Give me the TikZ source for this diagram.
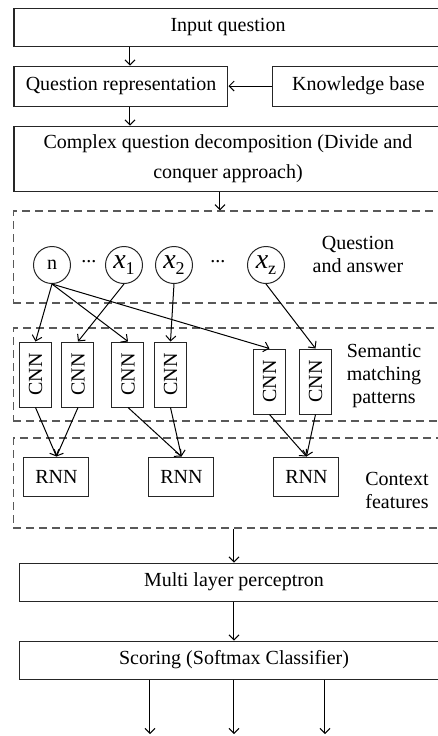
\documentclass[tikz,border=0pt]{standalone}
\usepackage{fontspec}
\setmainfont{Liberation Serif}
\usetikzlibrary{arrows.meta}
% italic variable with an upright index
\newcommand{\xvar}[1]{\textit{\fontsize{14}{14}\selectfont x}\raisebox{-0.6ex}{\fontsize{9}{9}\selectfont #1}}

\begin{document}
\begin{tikzpicture}[x=0.5pt,y=-0.5pt,line width=0.5pt,>={Straight Barb[length=2.5pt,width=5pt]}]
    \tikzstyle{box}=[draw=black!85,rectangle,inner sep=0pt,font=\fontsize{10}{12}\selectfont]
    \tikzstyle{cnn}=[box,minimum width=16pt,minimum height=32.5pt]
    \tikzstyle{rnn}=[box,minimum width=32.5pt,minimum height=19.5pt]
    \tikzstyle{unit}=[draw=black!85,circle,inner sep=0pt,minimum size=18.5pt,font=\fontsize{10}{12}\selectfont]
    \tikzstyle{group}=[draw=black!65,dash pattern=on 4pt off 2.5pt,line width=0.7pt,rectangle,minimum width=215pt]
    \tikzstyle{tag}=[align=center,font=\fontsize{10}{11.5}\selectfont]
    \useasboundingbox (0,0) rectangle (438,736);
    % top of the pipeline
    \draw (228,27) node[box,minimum width=214pt,minimum height=19pt] (inp) {Input question};
    \draw (121,86) node[box,minimum width=107pt,minimum height=20pt] (qr) {Question representation};
    \draw (358.5,86) node[box,minimum width=85.5pt,minimum height=20pt] (kb) {Knowledge base};
    \draw (228,158.5) node[box,minimum width=214pt,minimum height=32.5pt,align=center,font=\fontsize{10}{15}\selectfont] (cqd) {Complex question decomposition (Divide and\\conquer approach)};
    % dashed groups
    \draw (228.5,257) node[group,minimum height=46pt] (qa) {};
    \draw (228.5,374.5) node[group,minimum height=46.5pt] (smp) {};
    \draw (228.5,483) node[group,minimum height=45pt] (ctx) {};
    \draw (358,254) node[tag] {Question\\and answer};
    \draw (384,376) node[tag] {Semantic\\matching\\patterns};
    \draw (397,490) node[tag] {Context\\features};
    % inputs
    \draw (52,265) node[unit] (n) {n};
    \draw (124,265) node[unit] (x1) {\xvar{1}};
    \draw (174,265) node[unit] (x2) {\xvar{2}};
    \draw (266,265) node[unit] (xz) {\xvar{z}};
    \draw (89,262) node[tag] (d1) {...};
    \draw (218,262) node[tag] (d2) {...};
    % matching layer
    \draw (35.5,374.5) node[cnn] (c1) {\rotatebox{90}{CNN}};
    \draw (78,374.5) node[cnn] (c2) {\rotatebox{90}{CNN}};
    \draw (128,374.5) node[cnn] (c3) {\rotatebox{90}{CNN}};
    \draw (170.5,374.5) node[cnn] (c4) {\rotatebox{90}{CNN}};
    \draw (269.5,381.5) node[cnn] (c5) {\rotatebox{90}{CNN}};
    \draw (315.5,381.5) node[cnn] (c6) {\rotatebox{90}{CNN}};
    % context layer
    \draw (56.5,476.5) node[rnn] (r1) {RNN};
    \draw (181.5,476.5) node[rnn] (r2) {RNN};
    \draw (306.5,476.5) node[rnn] (r3) {RNN};
    % output side
    \draw (234,582) node[box,minimum width=214pt,minimum height=19pt] (mlp) {Multi layer perceptron};
    \draw (234,660) node[box,minimum width=214pt,minimum height=19pt] (sc) {Scoring (Softmax Classifier)};
    \coordinate (a1) at (130,0);
    \coordinate (a2) at (220,0);
    \coordinate (a3) at (234,0);
    \coordinate (o1) at (150,734);
    \coordinate (o2) at (234,734);
    \coordinate (o3) at (325,734);
    \draw[->] (inp.south -| a1) -- (qr.north -| a1);
    \draw[->] (kb) -- (qr);
    \draw[->] (qr.south -| a1) -- (cqd.north -| a1);
    \draw[->] (cqd.south -| a2) -- (qa.north -| a2);
    \draw[->] (n.south) -- (c1.north);
    \draw[->] (n.south) -- (c3.north);
    \draw[->] (n.south) -- (c5.north);
    \draw[->] (x1.south) -- (c2.north);
    \draw[->] (x2.south) -- (c4.north);
    \draw[->] (xz.south) -- (c6.north);
    \draw[->] (c1.south) -- (r1.north);
    \draw[->] (c2.south) -- (r1.north);
    \draw[->] (c3.south) -- (r2.north);
    \draw[->] (c4.south) -- (r2.north);
    \draw[->] (c5.south) -- (r3.north);
    \draw[->] (c6.south) -- (r3.north);
    \draw[->] (ctx.south -| a3) -- (mlp.north -| a3);
    \draw[->] (mlp) -- (sc);
    \draw[->] (sc.south -| o1) -- (o1);
    \draw[->] (sc.south -| o2) -- (o2);
    \draw[->] (sc.south -| o3) -- (o3);
\end{tikzpicture}
\end{document}
